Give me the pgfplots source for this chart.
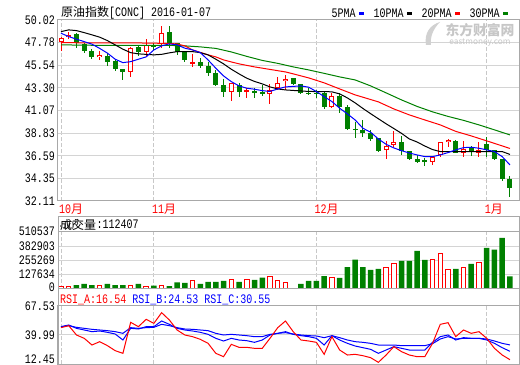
\documentclass[border=0pt]{standalone}
\usepackage{pgfplots}
\pgfplotsset{compat=1.18}
\usepackage{pgfplotstable}
\usepackage{fontspec}
\setmainfont{Liberation Mono}[FakeStretch=0.77]
\newfontfamily\cjk{Noto Sans CJK SC}[Scale=0.92]
\definecolor{cred}{RGB}{255,0,0}
\definecolor{cgreen}{RGB}{0,128,0}
\definecolor{cblue}{RGB}{0,0,255}
\definecolor{gridc}{RGB}{212,212,212}
\definecolor{borderc}{RGB}{168,168,168}
\definecolor{dashc}{RGB}{200,200,200}

% up (red, hollow) candles: index open high low close volume
\pgfplotstableread{
i o h l c v
0 47.82 48.30 46.96 48.22 26700
1 48.30 48.79 48.12 48.55 26700
5 46.34 46.96 46.02 46.57 35600
9 44.85 47.31 44.42 47.23 35600
11 46.83 48.12 46.47 47.56 26700
13 47.61 49.44 47.23 48.71 35600
17 45.75 46.64 45.41 45.84 71300
22 42.93 43.83 41.97 43.77 86400
24 42.97 43.27 42.28 43.05 80200
27 42.68 43.65 41.70 43.05 115800
28 43.25 44.39 43.05 43.77 71300
29 43.99 44.54 43.05 44.19 59700
35 41.45 42.78 41.27 42.51 98000
42 37.14 38.03 36.25 37.53 196000
43 37.66 39.08 37.46 37.99 222800
48 35.98 36.57 35.63 36.50 258400
49 36.64 37.93 36.50 37.93 311900
50 37.91 38.23 37.49 38.11 169300
52 36.84 38.06 36.50 37.30 196000
54 36.87 37.91 36.47 37.20 231700
}\uptab

% down (green, filled) candles
\pgfplotstableread{
i o h l c v
2 48.65 48.74 47.21 47.75 35600
3 47.66 47.75 46.72 46.91 44600
4 46.96 47.16 46.12 46.32 35600
6 46.47 46.72 45.43 45.90 44600
7 46.00 46.17 44.93 45.15 35600
8 45.18 45.18 44.04 44.85 35600
10 47.31 47.56 46.47 46.86 44600
12 47.56 47.75 47.06 47.31 29400
14 48.81 49.44 47.23 47.63 26700
15 47.70 47.78 46.57 46.89 59700
16 46.89 46.96 45.87 46.07 53500
18 45.90 46.27 45.28 45.51 44600
19 45.51 45.87 44.49 44.79 62400
20 44.79 45.08 43.45 43.60 62400
21 43.60 44.19 42.41 42.88 71300
23 43.60 43.83 42.44 42.93 62400
25 42.95 43.27 42.28 42.91 80200
26 42.88 43.55 42.51 42.76 100700
30 44.32 44.32 43.60 43.67 8900
31 43.65 43.65 42.71 42.84 44600
32 42.81 43.30 42.61 42.76 71300
33 42.81 43.10 42.28 42.75 71300
34 42.78 42.86 41.17 41.37 115800
36 42.51 42.78 40.86 41.45 98000
37 41.45 41.62 39.10 39.24 196000
38 39.24 39.97 38.32 39.20 261000
39 39.15 40.13 38.45 38.82 196000
40 38.82 39.15 38.06 38.23 169300
41 38.32 38.32 36.92 37.07 178200
44 37.99 38.50 36.67 37.10 249500
45 37.10 37.10 36.18 36.28 249500
46 36.28 36.62 35.83 35.95 338600
47 36.13 36.35 35.58 36.08 258400
51 38.09 38.11 36.84 36.84 178200
53 37.38 37.56 36.52 36.97 222800
55 37.71 38.48 36.42 37.12 365300
56 37.12 37.17 36.18 36.30 350200
57 36.26 36.28 34.05 34.27 454400
58 34.27 34.55 32.47 33.41 112407
}\dntab

% moving averages
\pgfplotstableread{
i m5 m10
0 48.71 48.87
1 48.38 49.04
2 48.12 48.97
3 47.88 48.77
4 47.63 48.55
5 47.21 48.32
6 46.74 47.98
7 46.14 47.56
8 45.80 47.13
9 45.90 46.79
10 46.14 46.67
11 46.37 46.62
12 47.06 46.57
13 47.46 46.62
14 47.66 46.77
15 47.56 46.89
16 47.23 46.89
17 47.06 46.89
18 46.79 46.79
19 46.07 46.57
20 45.25 46.14
21 44.49 45.68
22 43.92 45.15
23 43.50 44.69
24 43.27 44.26
25 43.17 43.94
26 43.03 43.70
27 42.95 43.40
28 43.20 43.20
29 43.40 43.10
30 43.45 43.05
31 43.50 43.00
32 43.37 42.95
33 42.94 42.94
34 42.44 42.94
35 41.95 42.91
36 41.29 42.71
37 40.73 42.31
38 40.13 41.82
39 39.31 41.27
40 38.92 40.75
41 38.25 40.25
42 37.72 39.75
43 37.36 39.28
44 37.09 38.80
45 36.86 38.25
46 36.67 37.95
47 36.50 37.55
48 36.50 37.20
49 36.67 37.00
50 36.90 37.00
51 37.17 37.00
52 37.39 37.00
53 37.43 37.00
54 37.33 37.00
55 37.17 37.00
56 37.00 37.00
57 36.50 37.00
58 35.68 36.72
}\matab

\pgfplotstableread{
i m
0 47.78
5 47.75
10 47.75
14 47.70
15 47.65
16 47.46
17 47.06
18 46.81
19 46.57
20 46.37
21 46.07
22 45.87
23 45.68
24 45.53
25 45.38
27 45.13
29 44.88
30 44.69
32 44.29
34 43.80
36 43.20
38 42.61
41 41.92
43 41.22
45 40.63
47 40.13
49 39.64
51 39.00
53 38.55
55 38.06
57 37.56
58 37.31
}\matwenty

\pgfplotstableread{
i m
0 47.56
5 47.51
10 47.51
14 47.51
16 47.46
18 47.36
20 47.21
22 46.86
24 46.42
26 46.02
28 45.73
30 45.38
32 45.08
34 44.74
36 44.39
38 44.09
40 43.50
42 42.81
44 42.11
46 41.47
48 40.93
50 40.48
52 40.09
54 39.64
56 39.15
58 38.65
}\mathirty

\pgfplotstableread{
i a b c
0 46.96 47.90 47.90
1 48.85 49.49 48.85
2 39.99 46.32 47.27
3 36.82 44.74 46.32
4 30.49 43.16 45.37
5 33.66 43.79 44.74
6 29.86 42.52 44.11
7 25.11 40.94 43.16
8 22.58 35.24 41.57
9 52.02 46.32 46.96
10 47.90 45.69 46.32
11 54.87 47.90 46.96
12 51.07 47.90 47.27
13 61.20 53.29 50.12
14 54.23 50.12 48.85
15 44.74 46.32 46.96
16 39.99 44.74 45.69
17 38.41 43.79 45.37
18 35.87 42.52 44.74
19 32.07 40.62 44.11
20 22.58 36.82 41.57
21 19.41 34.29 39.99
22 31.12 36.82 40.62
23 28.28 35.24 39.99
24 28.28 34.61 39.36
25 27.33 33.02 38.41
26 27.33 35.24 38.41
27 36.82 39.99 40.62
28 46.96 41.57 41.57
29 53.29 43.16 42.20
30 43.16 40.62 40.94
31 35.24 39.36 39.99
32 34.29 38.41 39.36
33 33.02 36.82 39.04
34 21.63 30.49 37.46
35 38.41 39.36 39.36
36 25.74 35.24 37.46
37 20.99 32.07 35.24
38 21.63 29.54 33.66
39 20.36 27.96 33.02
40 18.46 26.37 32.07
41 14.03 22.58 30.49
42 20.99 25.74 30.49
43 28.91 28.91 30.49
44 24.16 27.33 29.86
45 20.99 25.74 29.86
46 19.41 25.74 29.86
47 19.41 25.74 29.86
48 32.07 33.02 31.76
49 50.12 38.41 36.19
50 51.70 39.99 38.41
51 38.41 35.24 36.19
52 44.74 37.46 36.82
53 41.57 36.82 36.82
54 43.16 36.82 36.82
55 36.82 35.24 36.19
56 27.33 32.07 34.29
57 20.99 27.96 32.07
58 16.54 24.53 30.55
}\rsitab

\pgfplotsset{
  panel/.style={
    scale only axis, width=461bp, xmin=-0.388, xmax=59.17,
    anchor=south west,
    axis line style={draw=borderc, line width=1bp},
    major tick length=0pt,
    xtick={0,12,33,55},
    xmajorgrids, ymajorgrids,
    x grid style={draw=dashc, line width=0.8bp, dash pattern=on 4bp off 2bp},
    y grid style={draw=gridc, line width=1bp, solid},
    yticklabel style={anchor=east, inner sep=0pt, xshift=-3bp},
    clip=true,
  },
}

\begin{document}
\fontsize{13bp}{13bp}\selectfont
\begin{tikzpicture}
\path[use as bounding box] (0,0) rectangle (520bp,365bp);

% ---------------- main price panel ----------------
\begin{axis}[panel, at={(58bp,164bp)}, height=181bp,
  ymin=32.11, ymax=50.02,
  ytick={32.11,34.35,36.59,38.83,41.07,43.30,45.54,47.78,50.02},
  yticklabels={32.11,34.35,36.59,38.83,41.07,43.30,45.54,47.78,50.02},
  xticklabels={10{\cjk 月},11{\cjk 月},12{\cjk 月},1{\cjk 月}},
  xticklabel style={anchor=north west, text=cred, inner sep=0pt, xshift=-2bp, yshift=-2.5bp},
]
% wicks
\addplot[draw=none, mark=none, error bars/.cd, y dir=both, y explicit, error mark=none,
  error bar style={draw=cgreen, line width=1bp}]
  table[x=i, y expr={(\thisrow{h}+\thisrow{l})/2}, y error expr={(\thisrow{h}-\thisrow{l})/2}] {\dntab};
\addplot[draw=none, mark=none, error bars/.cd, y dir=both, y explicit, error mark=none,
  error bar style={draw=cred, line width=1bp}]
  table[x=i, y expr={(\thisrow{h}+\thisrow{l})/2}, y error expr={(\thisrow{h}-\thisrow{l})/2}] {\uptab};
% bodies
\addplot[draw=none, mark=none, error bars/.cd, y dir=both, y explicit, error mark=none,
  error bar style={draw=cgreen, line width=5bp}]
  table[x=i, y expr={(\thisrow{o}+\thisrow{c})/2}, y error expr={max(abs(\thisrow{o}-\thisrow{c})/2,0.05)}] {\dntab};
\addplot[draw=none, mark=none, error bars/.cd, y dir=both, y explicit, error mark=none,
  error bar style={draw=cred, line width=5bp}]
  table[x=i, y expr={(\thisrow{o}+\thisrow{c})/2}, y error expr={max(abs(\thisrow{o}-\thisrow{c})/2,0.05)}] {\uptab};
\addplot[draw=none, mark=none, error bars/.cd, y dir=both, y explicit, error mark=none,
  error bar style={draw=white, line width=3bp}]
  table[x=i, y expr={(\thisrow{o}+\thisrow{c})/2}, y error expr={max(abs(\thisrow{o}-\thisrow{c})/2-0.099,0)}] {\uptab};
% moving averages
\addplot[cgreen, line width=1bp, mark=none] table[x=i, y=m] {\mathirty};
\addplot[cred, line width=1bp, mark=none] table[x=i, y=m] {\matwenty};
\addplot[black, line width=1bp, mark=none] table[x=i, y=m10] {\matab};
\addplot[cblue, line width=1bp, mark=none] table[x=i, y=m5] {\matab};
\end{axis}

% ---------------- volume panel ----------------
\begin{axis}[panel, at={(58bp,76bp)}, height=57.3bp,
  ymin=0, ymax=510537,
  ytick={127634,255269,382903,510537},
  yticklabels={127634,255269,382903,510537},
  extra y ticks={0}, extra y tick labels={0},
  extra y tick style={yticklabel style={yshift=2bp}},
  xticklabels={},
]
\addplot[ybar, bar width=5.5bp, bar shift=0pt, fill=cgreen, draw=none] table[x=i, y=v] {\dntab};
\addplot[ybar, bar width=4.5bp, bar shift=0pt, fill=white, draw=cred, line width=1bp] table[x=i, y=v] {\uptab};
\end{axis}
\draw[borderc, line width=1bp] (58bp,76bp) rectangle (519bp,148.3bp);
\node[anchor=west, inner sep=0pt] at (60bp,140.5bp) {\cjk 成交量};
\node[anchor=west, inner sep=0pt] at (96.5bp,140.5bp) {:112407};

% ---------------- RSI panel ----------------
\begin{axis}[panel, at={(58bp,1bp)}, height=58bp,
  ymin=12.45, ymax=67.53,
  ytick={39.99,67.53},
  yticklabels={39.99,67.53},
  extra y ticks={12.45}, extra y tick labels={12.45},
  extra y tick style={yticklabel style={yshift=5bp}},
  xticklabels={},
]
\addplot[cblue, line width=1bp, mark=none] table[x=i, y=c] {\rsitab};
\addplot[cblue, line width=1bp, mark=none] table[x=i, y=b] {\rsitab};
\addplot[cred, line width=1bp, mark=none] table[x=i, y=a] {\rsitab};
\end{axis}
\draw[borderc, line width=1bp] (58bp,1bp) rectangle (519bp,76bp);
\node[anchor=west, inner sep=0pt] at (60bp,65bp) {\textcolor{cred}{RSI\_A:16.54} \textcolor{cblue}{RSI\_B:24.53} \textcolor{cblue}{RSI\_C:30.55}};

% ---------------- title, legend, watermark ----------------
\node[anchor=west, inner sep=0pt] at (61bp,352.3bp) {{\cjk 原油指数}[CONC] 2016-01-07};
\node[anchor=west, inner sep=0pt] at (331.5bp,351.5bp) {5PMA};
\fill[cblue] (359bp,350.2bp) rectangle (364bp,352.6bp);
\node[anchor=west, inner sep=0pt] at (373.5bp,351.5bp) {10PMA};
\fill[black] (407bp,350.2bp) rectangle (412bp,352.6bp);
\node[anchor=west, inner sep=0pt] at (421.5bp,351.5bp) {20PMA};
\fill[cred] (455bp,350.2bp) rectangle (460bp,352.6bp);
\node[anchor=west, inner sep=0pt] at (469.5bp,351.5bp) {30PMA};
\fill[cgreen] (503bp,350.2bp) rectangle (508bp,352.6bp);

\node[inner sep=0pt, text=black!22] at (480bp,335bp) {\cjk\fontsize{15bp}{15bp}\selectfont\bfseries 东方财富网};
\node[inner sep=0pt, text=black!22] at (480bp,322bp) {\cjk\fontsize{9bp}{9bp}\selectfont eastmoney.com};
\fill[black!18] (426bp,320bp) .. controls (424bp,332bp) and (430bp,340bp) .. (440bp,343bp)
  .. controls (433bp,336bp) and (430bp,328bp) .. (431bp,320bp) -- cycle;
\end{tikzpicture}
\end{document}
